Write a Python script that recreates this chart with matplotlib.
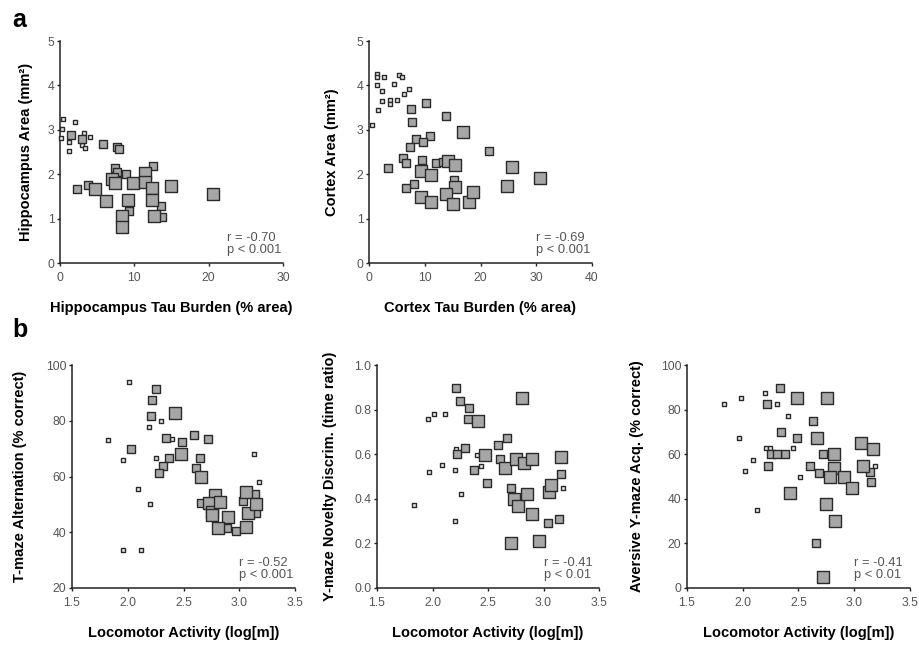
import matplotlib
matplotlib.use("Agg")
import matplotlib.pyplot as plt
import numpy as np

plt.rcParams['font.family'] = ['Liberation Sans', 'DejaVu Sans']

# ---- data: x, y, size group (0 small, 1 medium, 2 large) ----
hip_x = [0.45, 1.98, 0.3, 0.1, 1.17, 3.2, 4.1, 2.9, 3.4, 1.2,
         1.5, 2.9, 5.8, 7.7, 8.0, 2.3, 3.7, 7.45, 7.7, 8.9, 9.3, 12.5, 13.6, 13.7,
         4.75, 6.2, 7.0, 7.35, 9.8, 9.15, 8.35, 8.35, 11.5, 11.5, 12.4, 12.4, 12.7, 15.0, 20.6]
hip_y = [3.24, 3.18, 3.01, 2.81, 2.53, 2.92, 2.83, 2.66, 2.6, 2.73,
         2.88, 2.79, 2.67, 2.62, 2.56, 1.67, 1.76, 2.13, 2.06, 2.0, 1.17, 2.18, 1.28, 1.04,
         1.66, 1.40, 1.89, 1.81, 1.81, 1.43, 1.06, 0.82, 2.03, 1.83, 1.68, 1.43, 1.06, 1.73, 1.55]
hip_g = [0] * 10 + [1] * 14 + [2] * 15

ctx_x = [1.38, 1.4, 2.75, 5.4, 5.86, 1.43, 2.4, 4.5, 7.2, 6.3, 2.3, 3.77, 3.77, 5.1, 1.7, 0.6,
         10.3, 7.5, 7.8, 13.8, 10.9, 8.4, 9.75, 7.35, 21.6, 6.15, 6.6, 3.35, 9.57, 12.1, 15.3,
         8.1, 6.6, 13.2,
         16.8, 9.3, 11.1, 14.2, 15.4, 15.5, 9.4, 11.1, 13.9, 15.1, 17.9, 18.7, 24.7, 25.6, 30.7]
ctx_y = [4.26, 4.2, 4.18, 4.24, 4.18, 4.01, 3.88, 4.03, 3.93, 3.8, 3.65, 3.67, 3.57, 3.67, 3.45, 3.11,
         3.6, 3.46, 3.18, 3.32, 2.87, 2.79, 2.73, 2.62, 2.53, 2.36, 2.25, 2.15, 2.32, 2.25, 1.87,
         1.78, 1.68, 2.28,
         2.96, 2.08, 1.98, 2.3, 2.21, 1.72, 1.48, 1.38, 1.55, 1.34, 1.37, 1.61, 1.74, 2.17, 1.91]
ctx_g = [0] * 16 + [1] * 18 + [2] * 15

tmz_x = [2.007, 1.82, 2.19, 2.30, 2.40, 2.25, 1.96, 2.09, 2.2, 1.96, 2.12, 3.13, 3.18,
         2.25, 2.22, 2.21, 2.03, 2.34, 2.49, 2.59, 2.72, 2.37, 2.32, 2.28, 2.65, 2.61, 2.66,
         2.97, 2.89, 3.15, 3.03, 3.14,
         2.42, 2.48, 2.66, 2.78, 2.73, 2.76, 2.83, 2.90, 2.81, 3.06, 3.08, 3.06, 3.15, 2.76]
tmz_y = [93.8, 73.1, 77.9, 79.9, 73.3, 66.7, 65.8, 55.5, 50.0, 33.5, 33.5, 68.2, 58.1,
         91.3, 87.4, 81.8, 69.9, 73.7, 72.5, 74.9, 73.3, 66.7, 63.9, 61.4, 66.7, 63.2, 50.4,
         40.4, 41.5, 46.8, 51.2, 53.6,
         82.9, 68.0, 59.8, 53.4, 50.4, 47.2, 51.0, 45.6, 41.6, 42.0, 46.8, 54.5, 50.0, 46.2]
tmz_g = [0] * 13 + [1] * 19 + [2] * 14

nov_x = [1.96, 2.01, 2.11, 1.97, 2.09, 2.20, 2.21, 2.40, 2.44, 2.26, 2.20, 3.18, 1.83,
         2.21, 2.25, 2.33, 2.32, 2.22, 2.29, 2.37, 2.49, 2.67, 2.59, 2.61, 2.71, 3.04, 3.14, 3.16,
         2.81, 2.41, 2.47, 2.65, 2.75, 2.82, 2.90, 3.16, 2.73, 2.77, 2.85, 2.90, 3.05, 3.07,
         2.71, 2.96]
nov_y = [0.758, 0.779, 0.779, 0.519, 0.552, 0.529, 0.623, 0.596, 0.548, 0.42, 0.30, 0.45, 0.37,
         0.898, 0.839, 0.809, 0.758, 0.60, 0.629, 0.529, 0.47, 0.671, 0.641, 0.58, 0.45, 0.29,
         0.31, 0.51,
         0.851, 0.749, 0.596, 0.537, 0.58, 0.559, 0.58, 0.589, 0.40, 0.369, 0.42, 0.33, 0.432,
         0.462, 0.20, 0.21]
nov_g = [0] * 13 + [1] * 15 + [2] * 16

avr_x = [1.83, 1.98, 2.20, 2.31, 2.41, 1.97, 2.21, 2.24, 2.45, 2.09, 2.02, 2.51, 2.13, 3.19,
         2.33, 2.22, 2.63, 2.34, 2.49, 2.25, 2.38, 2.31, 2.23, 2.60, 2.68, 2.72, 2.66, 3.15, 3.14,
         2.49, 2.76, 2.67, 2.82, 2.82, 2.78, 2.91, 2.98, 2.42, 2.75, 2.83, 3.06, 3.17, 3.08, 2.72]
avr_y = [82.4, 85.1, 87.6, 82.4, 77.3, 67.4, 62.6, 62.6, 62.6, 57.4, 52.5, 49.9, 35.0, 54.8,
         89.8, 82.4, 74.9, 70.1, 67.4, 60.0, 60.0, 60.0, 54.8, 54.8, 51.4, 60.0, 20.0, 47.4, 52.2,
         85.1, 85.1, 67.4, 60.0, 53.7, 49.9, 49.9, 45.0, 42.5, 37.5, 30.0, 64.9, 62.3, 54.8, 5.1]
avr_g = [0] * 14 + [1] * 15 + [2] * 15

stats = ["r = -0.70\np < 0.001", "r = -0.69\np < 0.001", "r = -0.52\np < 0.001",
         "r = -0.41\np < 0.01", "r = -0.41\np < 0.01"]

# ---- style ----
group_size = {0: 9, 1: 40, 2: 75}
group_face = {0: '#e8e8e8', 1: '#a6a6a6', 2: '#a6a6a6'}
edge = '#2a2a2a'
tick_col = '#555555'

fig = plt.figure(figsize=(9.2, 6.46), dpi=100)
W, H = 920.0, 646.0


def make_ax(left, top, right, bottom):
    return fig.add_axes([left / W, 1 - bottom / H, (right - left) / W, (bottom - top) / H])


def draw(ax, xs, ys, gs, xlim, ylim, xticks, yticks, xfmt, yfmt, xlabel, ylabel, txt, ylab_x):
    xs = np.array(xs)
    ys = np.array(ys)
    gs = np.array(gs)
    for g in [0, 1, 2]:
        m = gs == g
        ax.scatter(xs[m], ys[m], s=group_size[g], marker='s', facecolor=group_face[g],
                   edgecolor=edge, linewidth=1.0, clip_on=False, zorder=3 + g)
    ax.set_xlim(xlim)
    ax.set_ylim(ylim)
    ax.set_xticks(xticks)
    ax.set_yticks(yticks)
    ax.set_xticklabels([xfmt.format(v) for v in xticks])
    ax.set_yticklabels([yfmt.format(v) for v in yticks])
    for s in ['top', 'right']:
        ax.spines[s].set_visible(False)
    for s in ['left', 'bottom']:
        ax.spines[s].set_linewidth(1.1)
        ax.spines[s].set_color('#222222')
    ax.tick_params(axis='both', direction='out', length=2.5, width=1.0, color='#222222',
                   labelsize=8.8, labelcolor=tick_col)
    ax.tick_params(axis='x', pad=4)
    ax.tick_params(axis='y', pad=1.5)
    ax.set_xlabel(xlabel, fontsize=10.5, fontweight='bold')
    ax.set_ylabel(ylabel, fontsize=10.5, fontweight='bold')
    ax.xaxis.set_label_coords(0.5, -0.17)
    ax.yaxis.set_label_coords(ylab_x, 0.5)
    ax.text(0.75, 0.03, txt, transform=ax.transAxes, ha='left', va='bottom',
            fontsize=9.3, color=tick_col, linespacing=1.05)


ax1 = make_ax(60, 41, 283, 263)
draw(ax1, hip_x, hip_y, hip_g, (0, 30), (0, 5), [0, 10, 20, 30], [0, 1, 2, 3, 4, 5],
     "{:d}", "{:d}", "Hippocampus Tau Burden (% area)", "Hippocampus Area (mm²)", stats[0], -0.12)

ax2 = make_ax(369, 41, 592, 263)
draw(ax2, ctx_x, ctx_y, ctx_g, (0, 40), (0, 5), [0, 10, 20, 30, 40], [0, 1, 2, 3, 4, 5],
     "{:d}", "{:d}", "Cortex Tau Burden (% area)", "Cortex Area (mm²)", stats[1], -0.135)

loc_ticks = [1.5, 2.0, 2.5, 3.0, 3.5]
ax3 = make_ax(72, 365, 295, 588)
draw(ax3, tmz_x, tmz_y, tmz_g, (1.5, 3.5), (20, 100), loc_ticks, [20, 40, 60, 80, 100],
     "{:.1f}", "{:d}", "Locomotor Activity (log[m])", "T-maze Alternation (% correct)",
     stats[2], -0.2)

ax4 = make_ax(377, 365, 599, 588)
draw(ax4, nov_x, nov_y, nov_g, (1.5, 3.5), (0, 1.0), loc_ticks, [0.0, 0.2, 0.4, 0.6, 0.8, 1.0],
     "{:.1f}", "{:.1f}", "Locomotor Activity (log[m])", "Y-maze Novelty Discrim. (time ratio)",
     stats[3], -0.18)

ax5 = make_ax(687, 365, 910, 588)
draw(ax5, avr_x, avr_y, avr_g, (1.5, 3.5), (0, 100), loc_ticks, [0, 20, 40, 60, 80, 100],
     "{:.1f}", "{:d}", "Locomotor Activity (log[m])", "Aversive Y-maze Acq. (% correct)",
     stats[4], -0.193)

fig.text(12 / W, 1 - 27 / H, "a", fontsize=18, fontweight='bold', va='baseline')
fig.text(12 / W, 1 - 337 / H, "b", fontsize=18, fontweight='bold', va='baseline')

fig.savefig("out.png", dpi=100, facecolor='white')
